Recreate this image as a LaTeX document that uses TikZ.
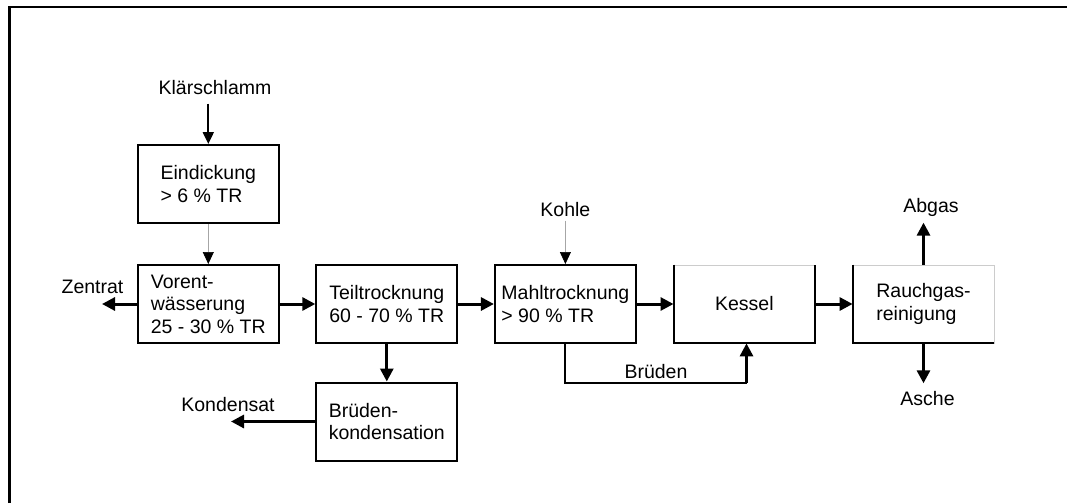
\documentclass[tikz,border=0pt]{standalone}
\usepackage{fontspec}
\setmainfont{Liberation Sans}
\usetikzlibrary{arrows.meta}

\begin{document}
\begin{tikzpicture}[x=1pt, y=-1pt,
    every node/.style={font=\fontsize{19.5}{22.5}\selectfont},
    block/.style={draw, line width=2pt, minimum width=141pt, minimum height=78pt, align=left, inner sep=0pt},
    greyblock/.style={block, draw=black!20, line width=0.8pt},
    edge/.style={line width=2pt},
    flow/.style={line width=3pt, -{Triangle[length=13pt,width=13pt]}},
    feed/.style={line width=2pt, -{Triangle[length=12pt,width=11pt]}},
    thinfeed/.style={line width=0.7pt, draw=black!35, -{Triangle[length=12pt,width=11pt,color=black]}}]
  \useasboundingbox (0,0) rectangle (1067,503);
  \draw[line width=2.2pt] (9.5,503) -- (9.5,6.7) -- (1067,6.7); % frame, cut off on the page

  % boxes
  \node[block] (eind) at (208.3,184) {Eindickung\\> 6 \% TR};
  \node[block] (vor) at (208.3,304) {Vorent-\\wässerung\\25 - 30 \% TR};
  \node[block] (teil) at (386.8,304) {Teiltrocknung\\60 - 70 \% TR};
  \node[block] (mahl) at (565.4,304) {Mahltrocknung\\> 90 \% TR};
  \node[greyblock] (kessel) at (744.4,304) {Kessel};
  \node[greyblock] (rauch) at (923.5,304) {Rauchgas-\\reinigung};
  \node[block] (brk) at (386.8,421.5) {Brüden-\\kondensation};
  \draw[edge] (kessel.north west) |- (kessel.south east) -- (kessel.north east);
  \draw[edge] (rauch.north west) |- (rauch.south east);

  % in- and outputs
  \node (klaer) at (215,88) {Klärschlamm};
  \node (kohle) at (565.4,210) {Kohle};
  \node (abgas) at (931,207) {Abgas};
  \node (asche) at (927.5,399) {Asche};
  \node (zentrat) at (92.5,287) {Zentrat};
  \node (kondensat) at (228,405) {Kondensat};
  \coordinate (zentratend) at (102,304);
  \coordinate (kondensatend) at (231,421.5);
  \coordinate (bruedenknick) at (746.5,383);

  \draw[feed, shorten <=5pt] (klaer.south -| eind.north) -- (eind.north);
  \draw[thinfeed] (eind) -- (vor);
  \draw[thinfeed] (kohle) -- (mahl);
  \draw[flow] (vor) -- (teil);
  \draw[flow] (teil) -- (mahl);
  \draw[flow] (mahl) -- (kessel);
  \draw[flow] (kessel) -- (rauch);
  \draw[flow] (vor) -- (zentratend);
  \draw[flow] (teil) -- (brk);
  \draw[flow] (brk) -- (kondensatend);
  \draw[flow, shorten >=3pt] (rauch.north) -- (abgas.south -| rauch.north);
  \draw[flow, shorten >=5pt] (rauch.south) -- (asche.north -| rauch.south);
  \draw[edge] (mahl.south) |- node[pos=0.75, above] {Brüden} (bruedenknick);
  \draw[flow] (bruedenknick) -- (bruedenknick |- kessel.south);
\end{tikzpicture}
\end{document}
